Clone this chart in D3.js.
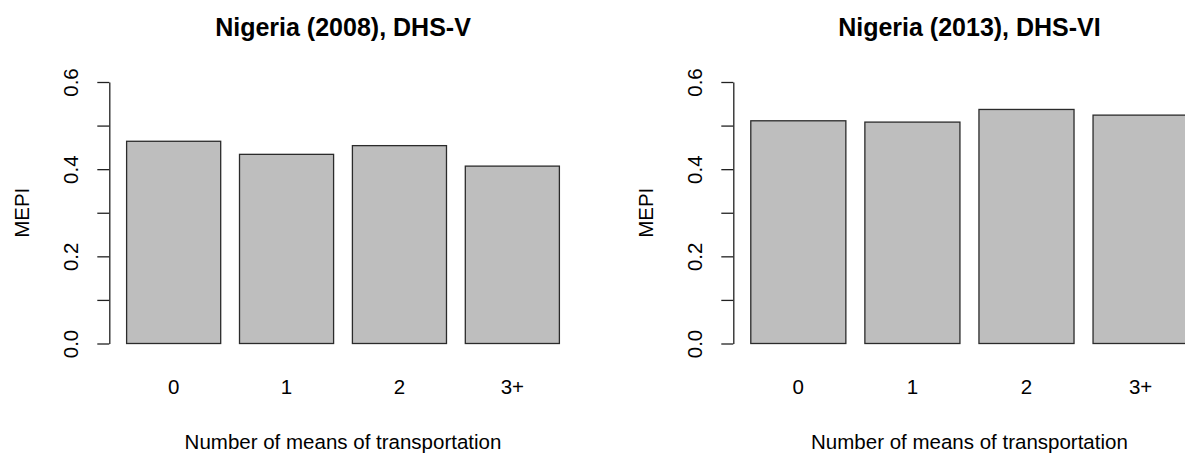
<!DOCTYPE html>
<html>
<head>
<meta charset="utf-8">
<script src="https://cdn.jsdelivr.net/npm/d3@7"></script>
<style>
	body { margin: 0; background: #fff; }
	svg { display: block; font-family: "Liberation Sans", Arial, sans-serif; }
</style>
</head>
<body>
<div id="svg-container"></div>
<script>

// DATA
const categories = ['0', '1', '2', '3+'];
const mepi2008 = [0.464, 0.434, 0.454, 0.407];
const mepi2013 = [0.511, 0.508, 0.537, 0.524];
const yTicks = [0, 0.1, 0.2, 0.3, 0.4, 0.5, 0.6];
const yTickLabels = ['0.0', '', '0.2', '', '0.4', '', '0.6'];
const titles = ['Nigeria (2008), DHS-V', 'Nigeria (2013), DHS-VI'];
const xTitle = 'Number of means of transportation';
const yTitle = 'MEPI';




// one barplot panel, R style
function drawPanel(svg, data, title, left, right) {
	const top = 82;
	const bottom = 343.5;

	// scales
	const xScale = d3.scaleBand()
		.domain(categories)
		.range([left, right])
		.paddingInner(1 / 6)
		.paddingOuter(0.1533);
	const yScale = d3.scaleLinear()
		.domain([0, 0.6])
		.range([bottom, top]);

	// bars
	svg.append('g')
		.selectAll('rect')
		.data(data)
		.enter()
		.append('rect')
		.attr('x', (d, i) => xScale(categories[i]))
		.attr('y', d => yScale(d))
		.attr('width', xScale.bandwidth())
		.attr('height', d => yScale(0) - yScale(d))
		.attr('fill', '#bebebe')
		.attr('stroke', '#2b2b2b')
		.attr('stroke-width', 1.3);

	// y axis
	const yAxis = d3.axisLeft(yScale)
		.tickValues(yTicks)
		.tickFormat((d, i) => yTickLabels[i])
		.tickSize(12)
		.tickSizeOuter(0);
	const gy = svg.append('g')
		.attr('transform', `translate(${left}, 0)`)
		.call(yAxis);
	gy.selectAll('path, line').attr('stroke', '#222').attr('stroke-width', 1.3);
	gy.selectAll('text')
		.attr('x', null)
		.attr('dy', '0.36em')
		.attr('transform', 'translate(-39, 0) rotate(-90)')
		.attr('text-anchor', 'middle')
		.attr('fill', '#000')
		.style('font-size', '20.5px');

	// category labels (R draws no x axis line)
	svg.append('g')
		.selectAll('text')
		.data(categories)
		.enter()
		.append('text')
		.attr('x', d => xScale(d) + xScale.bandwidth() / 2)
		.attr('y', 394)
		.attr('text-anchor', 'middle')
		.style('font-size', '20.5px')
		.text(d => d);

	// titles
	const mid = (left + right) / 2;
	svg.append('text')
		.attr('x', mid)
		.attr('y', 36)
		.attr('text-anchor', 'middle')
		.style('font-size', '25px')
		.style('font-weight', 'bold')
		.text(title);
	svg.append('text')
		.attr('x', mid)
		.attr('y', 449)
		.attr('text-anchor', 'middle')
		.style('font-size', '20.5px')
		.text(xTitle);
	svg.append('text')
		.attr('transform', `translate(${left - 80}, ${(top + bottom) / 2}) rotate(-90)`)
		.attr('text-anchor', 'middle')
		.style('font-size', '20.5px')
		.text(yTitle);
}




// MAIN
document.addEventListener('DOMContentLoaded', () => {
	const w = 1185;
	const h = 455;
	const svg = d3.select('#svg-container').append('svg')
		.attr('width', w)
		.attr('height', h);

	drawPanel(svg, mepi2008, titles[0], 109.3, 576.7);
	drawPanel(svg, mepi2013, titles[1], 733.3, 1205.6);
});
</script>
</body>
</html>
